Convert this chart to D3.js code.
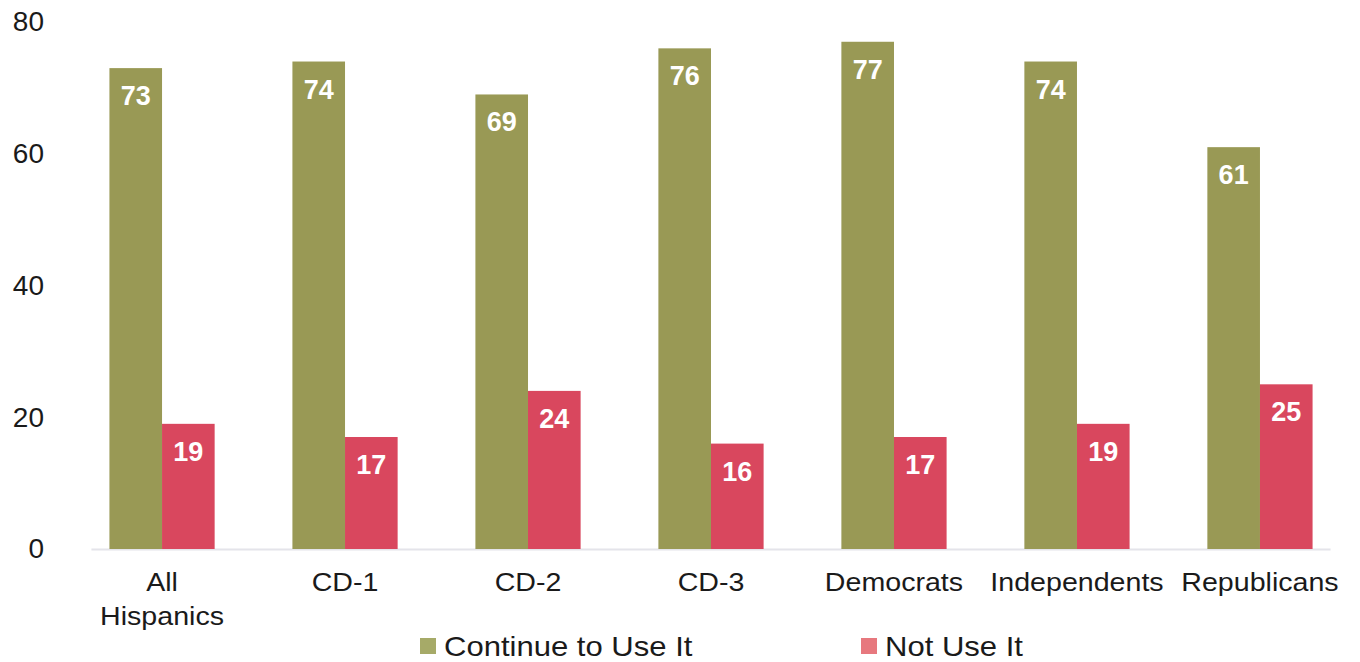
<!DOCTYPE html>
<html>
<head>
<meta charset="utf-8">
<script src="https://cdn.jsdelivr.net/npm/d3@7"></script>
<style>
  html, body { margin: 0; padding: 0; background: #fff; }
  svg { display: block; font-family: "Liberation Sans", Arial, sans-serif; }
</style>
</head>
<body>
<svg id="chart" width="1360" height="662"></svg>
<script>
const categories = ["All\nHispanics", "CD-1", "CD-2", "CD-3", "Democrats", "Independents", "Republicans"];
const continueValues = [73, 74, 69, 76, 77, 74, 61];
const notUseValues = [19, 17, 24, 16, 17, 19, 25];
const seriesNames = ["Continue to Use It", "Not Use It"];
const yTicks = [0, 20, 40, 60, 80];

const barColors = ["#999955", "#d9475e"];
const legendColors = ["#a6aa68", "#e7787e"];
const textColor = "#1a1a1a";

const svg = d3.select("#chart");

const x = d3.scaleBand()
  .domain(categories)
  .range([71, 1351])
  .paddingInner(0.425)
  .paddingOuter(0.21);

const x1 = d3.scaleBand()
  .domain(seriesNames)
  .range([0, x.bandwidth()]);

const y = d3.scaleLinear().domain([0, 80]).range([549, 22]);

// y axis labels
const yAxis = d3.axisLeft(y).tickValues(yTicks).tickSize(0).tickPadding(0);
const gy = svg.append("g").attr("transform", "translate(44,0)").call(yAxis);
gy.select(".domain").remove();
gy.selectAll("text")
  .attr("font-size", 28)
  .attr("fill", textColor)
  .attr("font-family", "Liberation Sans, Arial, sans-serif");

// baseline
svg.append("line")
  .attr("x1", x(categories[0]) - 18).attr("x2", x(categories[6]) + x.bandwidth() + 18)
  .attr("y1", y(0) + 0.5).attr("y2", y(0) + 0.5)
  .attr("stroke", "#e4e4ea").attr("stroke-width", 2);

const rows = categories.map((c, i) => ({ cat: c, vals: [continueValues[i], notUseValues[i]] }));

const groups = svg.append("g").selectAll("g")
  .data(rows).join("g")
  .attr("transform", d => `translate(${x(d.cat)},0)`);

const cells = d => d.vals.map((v, j) => ({ v, s: seriesNames[j], j }));

groups.selectAll("rect")
  .data(cells)
  .join("rect")
  .attr("x", d => x1(d.s))
  .attr("width", x1.bandwidth())
  .attr("y", d => y(d.v))
  .attr("height", d => y(0) - y(d.v))
  .attr("fill", d => barColors[d.j]);

groups.selectAll("text.val")
  .data(cells)
  .join("text")
  .attr("class", "val")
  .attr("x", d => x1(d.s) + x1.bandwidth() / 2)
  .attr("y", d => y(d.v) + 37)
  .attr("text-anchor", "middle")
  .attr("font-size", 27)
  .attr("font-weight", "bold")
  .attr("fill", "#ffffff")
  .text(d => d.v);

// category labels (slightly widened lettering)
const xAxis = svg.append("g");
categories.forEach(c => {
  const cx = x(c) + x.bandwidth() / 2;
  const t = xAxis.append("text")
    .attr("transform", `translate(${cx},591) scale(1.1,1)`)
    .attr("text-anchor", "middle")
    .attr("font-size", 26)
    .attr("fill", textColor);
  c.split("\n").forEach((ln, k) => {
    t.append("tspan")
      .attr("x", 0)
      .attr("dy", k === 0 ? 0 : 34)
      .text(ln);
  });
});

// legend
const legendX = [420, 861];
const legend = svg.append("g");
seriesNames.forEach((s, i) => {
  legend.append("rect")
    .attr("x", legendX[i]).attr("y", 638)
    .attr("width", 16).attr("height", 16)
    .attr("fill", legendColors[i]);
  legend.append("text")
    .attr("transform", `translate(${legendX[i] + 24},656) scale(1.15,1)`)
    .attr("font-size", 27)
    .attr("fill", textColor)
    .text(s);
});
</script>
</body>
</html>
